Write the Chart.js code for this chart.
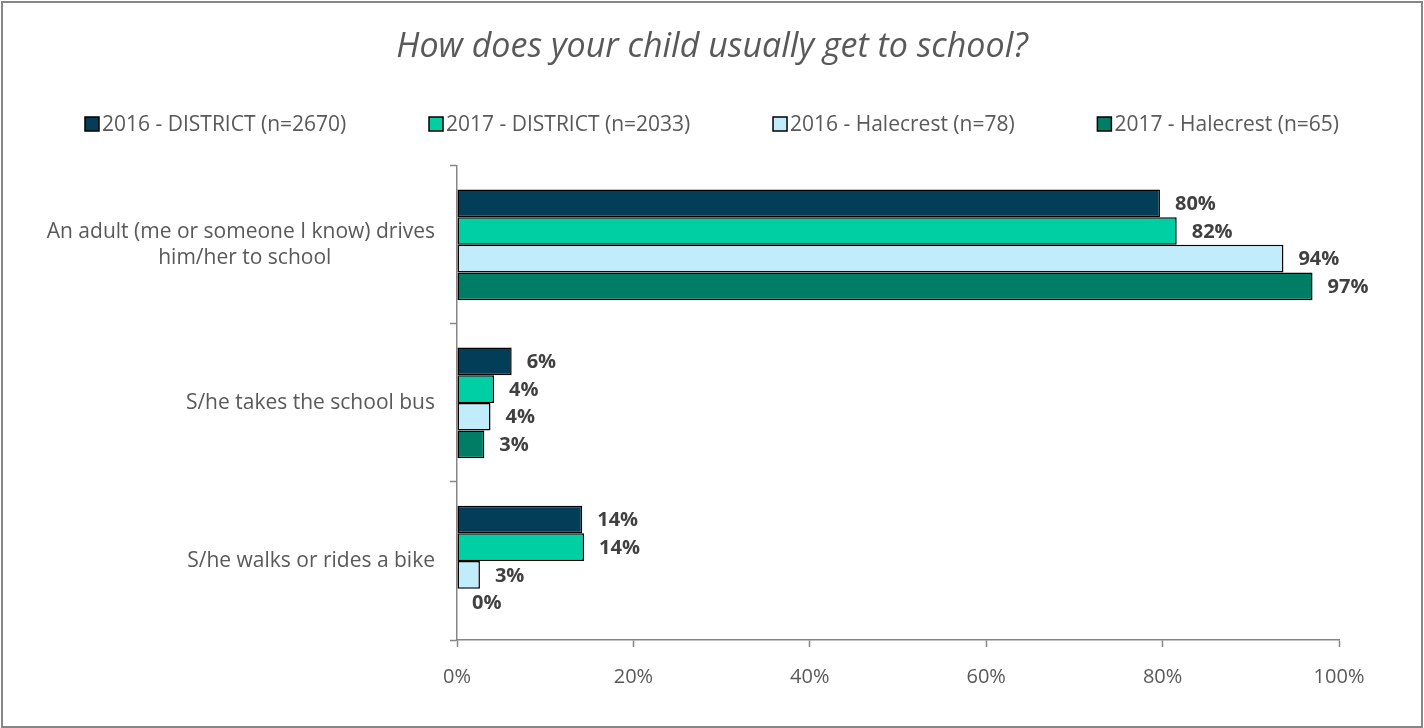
<!DOCTYPE html>
<html>
<head>
<meta charset="utf-8">
<script src="https://cdn.jsdelivr.net/npm/chart.js@4.4.1/dist/chart.umd.min.js"></script>
<style>
  html, body { margin: 0; padding: 0; background: #fff; }
  canvas { display: block; }
</style>
</head>
<body>
<canvas id="chart" width="1424" height="728"></canvas>
<script>
const FONT = "'Open Sans'";

const categories = [
  ["An adult (me or someone I know) drives", "him/her to school"],
  ["S/he takes the school bus"],
  ["S/he walks or rides a bike"],
];
const seriesLabels = [
  "2016 - DISTRICT (n=2670)",
  "2017 - DISTRICT (n=2033)",
  "2016 - Halecrest (n=78)",
  "2017 - Halecrest (n=65)",
];
const district2016 = [79.7, 6.2, 14.2];
const district2017 = [81.6, 4.2, 14.4];
const halecrest2016 = [93.7, 3.8, 2.6];
const halecrest2017 = [97.0, 3.1, 0];
const seriesColors = ["#023e58", "#00cfa4", "#c0ecfc", "#007d65"];

// Excel centres the lines of a wrapped label inside a right-aligned block;
// pad the shorter lines with trailing spaces to get the same look.
function centreLines(lines, font) {
  const ctx = document.createElement("canvas").getContext("2d");
  ctx.font = font;
  const widest = Math.max(...lines.map(l => ctx.measureText(l).width));
  return lines.map(l => {
    const target = ctx.measureText(l).width + (widest - ctx.measureText(l).width) / 2;
    let s = l;
    while (ctx.measureText(s + " ").width <= target + 1) s += " ";
    return s;
  });
}

const frame = {
  id: "frame",
  afterLayout(chart) {
    // centre the title on the whole canvas, not on the padded box
    chart.titleBlock.left = 0;
    chart.titleBlock.right = chart.width;
    chart.titleBlock.width = chart.width;
  },
  beforeDraw(chart) {
    const ctx = chart.ctx;
    ctx.save();
    ctx.fillStyle = "#fff";
    ctx.fillRect(0, 0, chart.width, chart.height);
    ctx.strokeStyle = "#868686";
    ctx.lineWidth = 2;
    ctx.strokeRect(2, 2, chart.width - 4, chart.height - 3);
    ctx.restore();
  }
};

const legendRow = {
  id: "legendRow",
  afterDraw(chart) {
    const ctx = chart.ctx;
    ctx.save();
    ctx.font = "21px " + FONT;
    ctx.textBaseline = "middle";
    const box = 14, gap = 3, y = 124;
    const items = chart.data.datasets.map(ds => ({
      text: ds.label, color: ds.backgroundColor, w: ctx.measureText(ds.label).width
    }));
    // spread the four entries over the same width as the reference row
    const rowWidth = 1254;
    const used = items.reduce((s, it) => s + box + gap + it.w, 0);
    const spacing = (rowWidth - used) / (items.length - 1);
    let x = (chart.width - rowWidth) / 2;
    items.forEach(it => {
      ctx.fillStyle = it.color;
      ctx.fillRect(x, y - box / 2, box, box);
      ctx.strokeStyle = "#000";
      ctx.lineWidth = 1.5;
      ctx.strokeRect(x, y - box / 2, box, box);
      ctx.fillStyle = "#595959";
      ctx.fillText(it.text, x + box + gap, y + 1);
      x += box + gap + it.w + spacing;
    });
    ctx.restore();
  }
};

const valueLabels = {
  id: "valueLabels",
  afterDatasetsDraw(chart) {
    const ctx = chart.ctx;
    ctx.save();
    ctx.font = "bold 20px " + FONT;
    ctx.fillStyle = "#404040";
    ctx.textBaseline = "middle";
    ctx.textAlign = "left";
    chart.data.datasets.forEach((ds, i) => {
      chart.getDatasetMeta(i).data.forEach((bar, j) => {
        ctx.fillText(Math.round(ds.data[j]) + "%", bar.x + 15, bar.y + 1);
      });
    });
    ctx.restore();
  }
};

const series = [district2016, district2017, halecrest2016, halecrest2017];

function build() {
  const yLabels = categories.map(c => centreLines(c, "21px " + FONT));
  new Chart(document.getElementById("chart"), {
    type: "bar",
    data: {
      labels: yLabels,
      datasets: series.map((d, i) => ({
        label: seriesLabels[i],
        data: d,
        backgroundColor: seriesColors[i],
        borderColor: "#000",
        borderWidth: 1.5,
        borderSkipped: false,
        categoryPercentage: 0.7,
        barPercentage: 1.0,
      })),
    },
    options: {
      indexAxis: "y",
      responsive: false,
      animation: false,
      layout: { padding: { left: 0, right: 85, top: 0, bottom: 0 } },
      plugins: {
        legend: { display: false },
        tooltip: { enabled: false },
        title: {
          display: true,
          text: "How does your child usually get to school?",
          color: "#595959",
          font: { family: FONT, size: 34, style: "italic", weight: "normal" },
          padding: { top: 27, bottom: 98 },
        },
      },
      scales: {
        x: {
          min: 0,
          max: 100,
          ticks: {
            stepSize: 20,
            callback: v => v + "%",
            color: "#595959",
            font: { family: FONT, size: 20 },
            padding: 18,
          },
          grid: { drawOnChartArea: false, drawTicks: true, tickLength: 7, tickColor: "#868686", tickWidth: 1.5 },
          border: { color: "#868686", width: 1.5 },
          afterFit(scale) { scale.height = 88; },
        },
        y: {
          ticks: {
            color: "#595959",
            font: { family: FONT, size: 21, lineHeight: 1.25 },
            padding: 15,
          },
          grid: { drawOnChartArea: false, drawTicks: true, tickLength: 7, tickColor: "#868686", tickWidth: 1.5, offset: true },
          border: { color: "#868686", width: 1.5 },
          afterFit(scale) { scale.width = 457; },
        },
      },
    },
    plugins: [frame, legendRow, valueLabels],
  });
}

document.fonts.load("21px " + FONT).then(build, build);
</script>
</body>
</html>
